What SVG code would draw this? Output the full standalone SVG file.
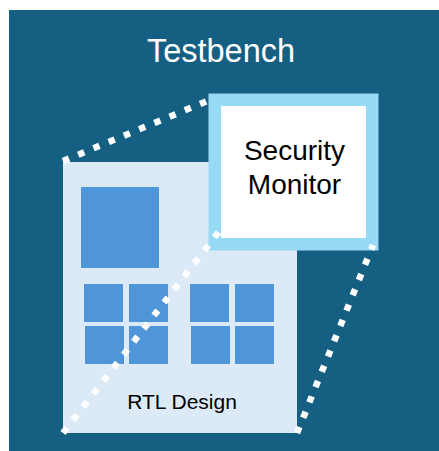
<svg xmlns="http://www.w3.org/2000/svg" width="439" height="451" viewBox="0 0 439 451">
  <style>
    .blk { fill: #4E95D9; }
    .dot { stroke: #FFFFFF; stroke-width: 6.5; stroke-dasharray: 6.5 10; fill: none; }
    text { font-family: "Liberation Sans", Arial, sans-serif; text-anchor: middle; }
  </style>
  <rect width="439" height="451" fill="#FFFFFF"/>
  <g id="testbench">
    <rect x="9" y="10" width="430" height="441" fill="#156082"/>
    <text x="221" y="62" font-size="32.5" fill="#FFFFFF">Testbench</text>
  </g>
  <g id="rtl-design">
    <rect x="63" y="162" width="234" height="271" fill="#DCE9F6"/>
    <rect class="blk" x="81" y="187" width="78" height="81"/>
    <rect class="blk" x="84" y="284" width="39" height="38"/>
    <rect class="blk" x="129" y="284" width="39" height="38"/>
    <rect class="blk" x="85" y="326" width="39" height="38"/>
    <rect class="blk" x="129" y="326" width="39" height="38"/>
    <rect class="blk" x="190" y="284" width="39" height="38"/>
    <rect class="blk" x="235" y="284" width="39" height="38"/>
    <rect class="blk" x="191" y="326" width="39" height="38"/>
    <rect class="blk" x="235" y="326" width="39" height="38"/>
    <text x="182" y="409" font-size="21" fill="#000000">RTL Design</text>
  </g>
  <g id="security-monitor">
    <rect x="208.5" y="93.5" width="170" height="157" fill="#97DAF6"/>
    <rect x="221" y="106" width="145" height="132" fill="#FFFFFF"/>
    <text x="294.5" y="160" font-size="28" fill="#000000">Security</text>
    <text x="294.5" y="194" font-size="28" fill="#000000">Monitor</text>
  </g>
  <g id="connectors">
    <line class="dot" x1="63" y1="161" x2="212" y2="99"/>
    <line class="dot" x1="63" y1="433" x2="221" y2="229"/>
    <line class="dot" x1="297" y1="433" x2="373" y2="245"/>
  </g>
</svg>
